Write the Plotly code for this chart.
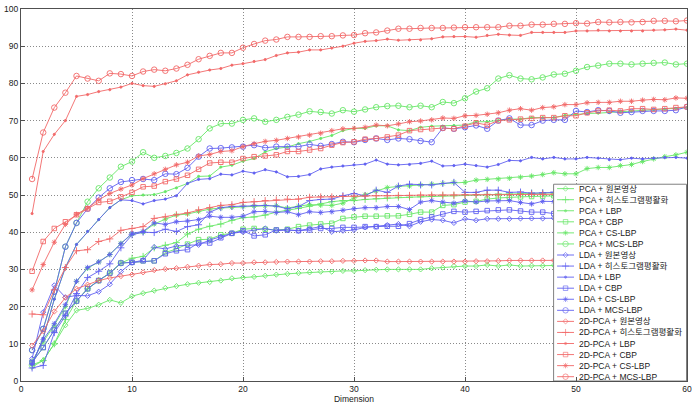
import plotly.graph_objects as go

dims = list(range(1, 61))

# ---- PCA (green) ----
pca_orig = [3.8,5.5,10.0,15.0,19.0,19.5,20.5,21.8,21.0,22.8, 23.6,24.3,25.0,25.5,26.0,26.4,26.6,27.0,27.6,27.8,
            28.0,28.3,28.6,28.8,29.0,29.2,29.4,29.4,29.6,29.6, 29.8,29.9,30.0,30.0,30.0,30.0,30.3,30.5,30.9,30.9,
            30.9,31.2,30.9,31.2,30.9,31.0,31.0,31.1,31.1,31.1, 31.2,31.2,31.2,31.2,31.2,31.3,31.3,31.3,31.3,31.3]
pca_histeq = [4.3,5.5,10.0,16.5,21.5,24.8,27.0,29.0,31.7,33.0, 33.5,35.8,36.5,37.2,39.5,40.8,41.6,42.2,43.2,43.9,
              44.1,44.6,45.4,45.8,46.4,47.0,47.6,48.2,48.5,48.5, 48.8,49.0,49.2,49.4,49.4,49.5,49.6,49.8,49.8,50.0,
              50.1,50.2,50.3,50.3,50.4,50.5,50.5,50.6,50.6,50.7, 50.7,50.8,50.8,50.9,50.9,51.0,51.0,51.0,51.1,51.1]
pca_lbp = [4.5,11.5,22.0,30.5,36.7,40.2,43.4,46.6,48.7,49.8, 50.0,50.1,50.9,51.9,53.1,55.0,55.1,57.5,58.0,59.1,
           59.8,61.6,62.5,62.9,63.8,64.4,65.2,66.0,67.3,67.9, 67.9,68.6,68.6,67.5,67.3,68.2,68.5,68.5,68.7,68.8,
           69.7,69.7,70.0,70.4,70.4,70.8,70.8,70.8,71.4,71.7, 71.9,72.0,72.2,72.4,72.5,72.7,72.9,73.1,73.3,73.5]
pca_cbp = [5.0,9.0,13.7,18.2,21.5,24.8,27.0,29.0,31.7,31.9, 32.3,32.3,34.5,35.5,36.8,38.0,38.1,39.3,39.7,40.8,
           41.0,40.8,40.6,40.8,41.5,41.9,42.2,42.4,43.7,44.1, 44.3,44.3,44.4,44.4,44.8,45.4,45.4,47.2,47.4,48.1,
           48.3,48.9,49.2,49.4,49.5,49.6,49.7,49.8,49.8,49.9, 50.0,50.1,50.2,50.2,50.3,50.3,50.4,50.4,50.5,50.5]
pca_cslbp = [5.3,10.5,15.0,20.0,26.8,30.3,32.0,34.0,37.0,39.5, 40.0,42.2,43.5,44.6,44.9,45.6,46.2,46.5,46.7,46.9,
             47.0,47.1,47.1,46.5,47.0,47.4,47.3,47.2,47.8,49.2, 50.1,51.1,52.0,52.3,52.4,52.7,52.9,53.1,53.4,53.4,
             54.0,54.2,54.3,54.5,54.8,55.1,55.5,56.0,55.7,55.7, 57.1,57.4,57.4,57.9,58.2,59.0,59.7,60.3,60.8,61.5]
pca_mcslbp = [8.3,14.0,24.0,36.1,42.5,48.2,51.8,54.7,57.6,59.0, 61.5,60.0,60.5,61.3,62.5,65.0,67.9,69.2,69.2,70.2,
              70.6,69.7,70.2,71.0,71.6,72.5,72.3,71.9,72.8,72.4, 73.0,73.6,73.9,74.0,73.6,74.0,73.6,75.0,74.7,76.0,
              77.8,78.7,81.3,82.2,81.3,81.1,81.6,82.4,82.6,83.4, 84.4,84.8,85.3,85.3,85.1,85.3,85.5,85.6,85.1,85.3]

# ---- LDA (blue) ----
lda_orig = [6.0,18.5,25.7,22.5,23.0,22.9,24.0,26.0,29.4,31.8, 32.5,36.0,35.5,36.3,36.5,36.6,37.9,38.8,39.7,40.1,
            40.6,41.0,40.4,40.6,40.4,41.0,41.5,40.1,40.4,40.6, 41.3,41.5,41.9,42.2,41.6,42.8,43.4,43.2,42.5,43.6,
            43.2,43.6,43.6,43.6,43.7,43.7,43.7,43.8,43.7,43.8, 43.9,43.9,44.0,44.0,44.1,44.2,44.2,44.3,44.4,44.5]
lda_histeq = [3.5,4.2,13.0,17.5,23.5,27.8,29.5,31.5,35.8,39.3, 40.0,39.9,40.8,40.2,41.5,42.0,45.4,46.6,46.9,47.0,
              47.2,47.2,47.0,46.3,46.9,48.5,48.8,48.9,49.8,50.4, 49.8,51.3,50.7,52.4,52.9,52.7,52.7,53.1,53.4,50.7,
              50.7,51.3,51.3,50.7,50.8,50.5,50.6,50.8,50.9,51.0, 51.0,51.1,51.1,51.0,51.1,51.2,51.2,51.2,51.3,51.3]
lda_lbp = [4.5,11.5,22.0,30.5,36.7,40.2,43.4,46.6,48.7,48.5, 47.6,48.5,48.9,49.8,53.1,54.2,54.4,55.6,55.4,56.4,
           55.9,56.8,56.2,54.9,55.0,55.5,57.0,57.5,57.8,58.1, 58.3,59.4,58.3,58.1,58.2,58.5,59.1,57.8,57.9,58.3,
           57.9,57.5,58.2,59.3,59.2,60.1,59.7,60.1,59.7,59.7, 60.1,59.9,59.5,59.5,59.9,59.7,59.9,60.1,60.1,59.9]
lda_cbp = [5.0,9.0,13.7,18.2,21.5,24.8,27.0,29.0,31.7,31.9, 32.3,32.3,34.2,35.0,35.3,37.1,37.1,38.5,39.7,40.4,
           39.0,39.3,40.6,40.6,40.4,40.6,41.0,41.0,41.3,41.3, 41.5,41.5,41.6,41.6,42.3,43.4,44.1,44.9,45.6,45.4,
           45.6,45.8,46.0,46.0,45.7,45.4,45.4,45.0,45.2,45.4, 45.5,45.6,45.8,45.9,46.0,46.1,46.2,46.4,46.5,46.7]
lda_cslbp = [4.7,11.1,15.4,20.5,26.8,30.5,32.0,34.0,36.9,39.7, 40.2,42.5,42.1,42.8,43.0,43.4,44.3,44.0,44.0,44.3,
             45.5,45.6,45.3,45.5,44.7,45.5,45.3,45.5,45.9,46.3, 46.6,46.6,46.9,46.9,46.1,48.1,48.5,48.1,47.8,48.4,
             48.1,48.4,48.4,48.5,48.0,47.6,48.3,48.2,48.2,48.3, 48.3,48.4,48.4,48.4,48.5,48.5,48.5,48.5,48.6,48.6]
lda_mcslbp = [8.3,14.0,24.0,36.1,42.5,46.3,49.3,51.8,53.5,54.0, 54.3,54.0,55.7,55.6,57.3,60.3,62.5,62.6,62.8,63.0,
              63.4,62.7,63.0,63.0,63.0,63.6,63.2,63.7,64.3,64.2, 64.8,65.2,64.8,65.2,65.0,64.5,64.2,68.0,67.8,68.2,
              68.7,67.8,70.0,70.6,68.8,68.8,70.0,70.2,70.2,72.6, 72.3,72.8,72.6,72.1,72.3,72.6,72.6,72.6,72.8,73.7]

# ---- 2D-PCA (red) ----
pca2d_orig = [9.5,13.4,18.7,22.4,24.8,25.9,27.0,27.7,28.2,28.6, 29.2,29.8,30.1,30.3,30.7,31.0,31.3,31.4,31.7,31.7,
              31.9,31.9,32.0,32.1,32.1,32.1,32.2,32.2,32.3,32.3, 32.4,32.4,32.1,32.1,32.1,32.1,32.1,32.1,32.1,32.1,
              32.2,32.2,32.3,32.4,32.4,32.4,32.4,32.4,32.4,32.4, 32.5,32.5,32.5,32.5,32.5,32.5,32.5,32.5,32.5,32.5]
pca2d_histeq = [18.0,17.8,24.5,30.5,35.0,35.3,37.5,38.2,40.5,41.0, 41.5,43.7,44.1,44.7,45.2,46.0,46.6,47.2,47.4,48.0,
                48.2,48.5,48.7,48.9,48.9,49.4,49.5,49.5,49.6,49.7, 49.7,49.8,49.8,49.9,49.9,50.0,50.0,50.0,50.0,50.1,
                50.1,50.1,50.1,50.1,50.2,50.2,50.2,50.2,50.2,50.3, 50.3,50.3,50.3,50.3,50.3,50.4,50.4,50.4,50.4,50.4]
pca2d_lbp = [45.0,61.7,66.3,70.0,76.5,77.0,77.8,78.3,79.0,80.0, 79.4,79.2,79.9,80.7,82.3,83.0,83.6,84.0,84.9,85.3,
             85.9,86.4,87.5,88.2,88.4,89.0,89.0,89.5,90.0,90.8, 91.3,91.5,91.9,91.6,91.7,91.7,92.0,92.5,92.6,92.6,
             92.4,92.9,93.2,93.0,92.9,93.7,93.7,93.7,93.7,94.1, 94.1,94.3,94.1,94.1,94.1,94.1,94.3,94.4,94.6,94.3]
pca2d_cbp = [29.5,37.5,41.0,42.8,44.7,46.3,48.0,48.3,49.5,50.7, 52.2,52.4,53.6,54.3,55.3,56.9,58.6,58.8,58.8,59.8,
             60.3,60.5,60.8,61.7,61.7,62.1,62.5,63.4,64.1,64.3, 65.0,65.2,65.6,66.1,67.3,67.6,67.8,68.0,67.8,68.5,
             69.4,68.8,70.0,70.2,70.4,70.6,70.8,70.8,71.3,71.3, 72.1,72.6,72.8,72.6,73.2,73.2,73.0,73.2,73.5,73.7]
pca2d_cslbp = [24.5,31.3,37.3,42.1,44.8,46.5,48.7,50.4,51.6,52.7, 54.4,55.7,56.9,58.1,58.8,60.5,60.9,61.7,61.9,63.0,
               63.8,64.4,64.7,65.2,65.6,66.1,66.6,67.3,67.8,67.9, 68.2,68.8,68.6,69.1,69.7,69.9,70.2,70.7,70.6,71.3,
               71.4,71.7,72.1,72.8,73.2,72.8,73.5,73.7,74.3,74.3, 74.8,74.9,74.9,75.2,75.2,75.5,75.7,75.6,76.1,76.0]
pca2d_mcslbp = [54.3,66.8,73.5,77.5,82.0,81.3,80.7,82.7,82.5,82.0, 83.2,83.7,83.4,84.0,85.0,86.5,87.4,88.2,88.2,89.6,
                90.6,91.5,91.8,92.5,92.5,92.5,92.7,92.7,92.9,93.0, 93.5,93.7,94.2,94.7,94.7,94.9,94.9,94.9,95.0,95.1,
                95.1,95.1,95.1,95.5,95.5,95.8,95.8,96.0,96.0,96.2, 96.1,96.5,96.4,96.5,96.4,96.5,96.8,96.8,96.7,96.9]

methods = ["PCA", "LDA", "2D-PCA"]
features = ["원본영상", "히스토그램평활화", "LBP", "CBP", "CS-LBP", "MCS-LBP"]
series = {
    "PCA": [pca_orig, pca_histeq, pca_lbp, pca_cbp, pca_cslbp, pca_mcslbp],
    "LDA": [lda_orig, lda_histeq, lda_lbp, lda_cbp, lda_cslbp, lda_mcslbp],
    "2D-PCA": [pca2d_orig, pca2d_histeq, pca2d_lbp, pca2d_cbp, pca2d_cslbp, pca2d_mcslbp],
}
colors = {"PCA": "#66e666", "LDA": "#6060f0", "2D-PCA": "#f26868"}
markers = [("diamond-open", 4), ("cross-thin-open", 5), ("circle", 2.2),
           ("square-open", 4.5), ("asterisk-open", 4.5), ("circle-open", 5.5)]

FONT = "Liberation Sans, Arial, Noto Sans CJK KR, sans-serif"
W, H = 696, 405
L, R, T, B = 21, 690, 4, 384

fig = go.Figure()
for m in methods:
    for f, ys, (sym, sz) in zip(features, series[m], markers):
        fig.add_trace(go.Scatter(
            x=dims, y=ys, mode="lines+markers", name=f"{m} + {f}",
            line=dict(color=colors[m], width=0.9),
            marker=dict(symbol=sym, size=sz, color=colors[m], line=dict(color=colors[m], width=0.9)),
            showlegend=False, cliponaxis=True))

# ---- manual legend on an overlay axis measured in pixels ----
lx0, lx1, ly0, ly1 = 556, 689.5, 183, 384
fig.add_trace(go.Scatter(x=[lx0, lx1, lx1, lx0, lx0], y=[ly0, ly0, ly1, ly1, ly0],
                         xaxis="x2", yaxis="y2", mode="lines", fill="toself",
                         fillcolor="white", line=dict(color="#808080", width=1),
                         showlegend=False, hoverinfo="skip"))
row_y0, row_dy = 187.5, 11.3
i = 0
for m in methods:
    for f, (sym, sz) in zip(features, markers):
        yy = row_y0 + row_dy * i
        fig.add_trace(go.Scatter(x=[559.5, 568, 576.5], y=[yy, yy, yy], xaxis="x2", yaxis="y2",
                                 mode="lines+markers", line=dict(color=colors[m], width=0.9),
                                 marker=dict(symbol=sym, size=[0, sz, 0], color=colors[m],
                                             line=dict(color=colors[m], width=0.9)),
                                 showlegend=False, hoverinfo="skip"))
        fig.add_annotation(x=579.5, y=yy, xref="x2", yref="y2", text=f"{m} + {f}",
                           showarrow=False, xanchor="left", yanchor="middle",
                           font=dict(family=FONT, size=8.5, color="#202020"))
        i += 1

axis_common = dict(showline=True, linecolor="#505050", linewidth=1, mirror=True,
                   ticks="inside", ticklen=4, tickcolor="#505050",
                   showgrid=True, gridcolor="#8a8a8a", griddash="1px,2px", gridwidth=1,
                   zeroline=False, ticklabeloverflow="allow",
                   tickfont=dict(family=FONT, size=8.5, color="#202020"))

fig.update_layout(
    width=W, height=H,
    margin=dict(l=L, r=W - R, t=T, b=H - B),
    paper_bgcolor="white", plot_bgcolor="white",
    font=dict(family=FONT, size=8.5, color="#202020"),
    xaxis=dict(range=[0, 60], dtick=10, tick0=0,
               title=dict(text="Dimension", standoff=1, font=dict(family=FONT, size=8.5)),
               **axis_common),
    yaxis=dict(range=[0, 100], dtick=10, tick0=0, **axis_common),
    xaxis2=dict(overlaying="x", range=[L, R], visible=False, fixedrange=True),
    yaxis2=dict(overlaying="y", range=[B, T], visible=False, fixedrange=True),
    showlegend=False,
)

fig.write_html("out.html")
